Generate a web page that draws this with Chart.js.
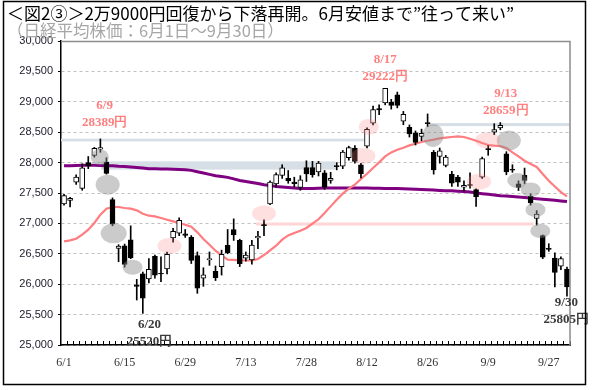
<!DOCTYPE html>
<html>
<head>
<meta charset="utf-8">
<script src="https://cdn.jsdelivr.net/npm/chart.js@4.4.1/dist/chart.umd.min.js"></script>
<style>
  html, body { margin: 0; padding: 0; background: #fff; }
  #wrap { width: 593px; height: 390px; }
</style>
</head>
<body>
<div id="wrap"><canvas id="nikkei" width="593" height="390"></canvas></div>
<script>
// trading days, 2022/6/1 - 9/30
const dates = [
  '6/1','6/2','6/3','6/6','6/7','6/8','6/9','6/10','6/13','6/14',
  '6/15','6/16','6/17','6/20','6/21','6/22','6/23','6/24','6/27','6/28',
  '6/29','6/30','7/1','7/4','7/5','7/6','7/7','7/8','7/11','7/12',
  '7/13','7/14','7/15','7/19','7/20','7/21','7/22','7/25','7/26','7/27',
  '7/28','7/29','8/1','8/2','8/3','8/4','8/5','8/8','8/9','8/10',
  '8/12','8/15','8/16','8/17','8/18','8/19','8/22','8/23','8/24','8/25',
  '8/26','8/29','8/30','8/31','9/1','9/2','9/5','9/6','9/7','9/8',
  '9/9','9/12','9/13','9/14','9/15','9/16','9/20','9/21','9/22','9/26',
  '9/27','9/28','9/29','9/30'
];

const opens = [
  27320,27380,27680,27575,28000,28120,28220,28010,27390,26590,
  26630,26730,25990,26170,26085,26460,26180,26250,26760,26840,
  26830,26770,26470,26100,26400,26210,26290,26640,26900,26720,
  26430,26400,26760,26980,27320,27650,27790,27740,27680,27590,
  27920,27920,27845,27830,27705,27950,27940,28080,28240,27965,
  28270,28650,28890,28980,28990,29115,28680,28580,28490,28430,
  28660,28170,28100,27955,27810,27760,27595,27640,27555,27760,
  28230,28500,28570,28145,27890,27650,27790,27445,27080,26800,
  26590,26430,26295,26250
];
const highs = [
  27480,27430,27800,27980,28100,28250,28389,28080,27420,26650,
  26660,26960,26080,26200,26420,26480,26450,26530,26920,27090,
  26900,26800,26530,26270,26530,26300,26560,26900,27075,26740,
  26530,26720,26870,27060,27700,27830,27965,27870,27760,27785,
  28030,28020,28020,27870,27840,28000,28200,28270,28280,27990,
  28570,28930,28950,29222,29040,29160,28842,28620,28520,28550,
  28800,28200,28240,28120,27855,27790,27700,27830,27570,28090,
  28280,28640,28659,28180,27965,27700,27910,27485,27210,26810,
  26666,26515,26450,26280
];
const lows = [
  27300,27270,27640,27545,27900,28090,28170,27810,26960,26370,
  26280,26420,25740,25520,26020,26100,26040,26170,26690,26800,
  26770,26340,25850,25965,26310,26060,26150,26500,26720,26290,
  26380,26330,26585,26800,27310,27600,27740,27660,27600,27545,
  27690,27760,27780,27560,27660,27880,27900,28040,27990,27750,
  28240,28620,28790,28950,28880,28900,28623,28420,28290,28360,
  28590,27810,27990,27930,27610,27610,27530,27580,27280,27740,
  28120,28460,28540,27800,27840,27540,27655,27300,26970,26420,
  26540,25955,26240,25805
];
const closes = [
  27457,27413,27761,27915,27944,28234,28246,27824,26987,26629,
  26326,26431,25963,25771,26246,26149,26171,26491,26871,27049,
  26804,26393,25935,26153,26423,26107,26490,26517,26812,26336,
  26478,26643,26788,26961,27680,27803,27914,27699,27655,27715,
  27815,27801,27993,27594,27741,27932,28175,28249,28020,27819,
  28546,28871,28868,29222,28942,28940,28794,28470,28330,28480,
  28641,27879,28195,28091,27661,27680,27625,27626,27440,28065,
  28214,28542,28614,27845,27876,27590,27705,27335,27155,26446,
  26571,26193,26422,25955
];

// 25-day moving average (red) and 75-day moving average (purple)
const ma25 = [
  26704,26721,26748,26814,26897,27007,27143,27242,27270,27270,
  27253,27242,27214,27160,27127,27115,27089,27061,27033,27007,
  26979,26945,26853,26743,26650,26551,26474,26403,26400,26392,
  26390,26392,26414,26480,26556,26633,26732,26803,26842,26880,
  26924,26995,27068,27171,27280,27390,27489,27571,27637,27730,
  27817,27911,28004,28102,28168,28212,28245,28283,28311,28339,
  28360,28377,28398,28410,28421,28431,28421,28393,28360,28322,
  28290,28278,28270,28240,28168,28102,28031,27977,27928,27812,
  27702,27608,27516,27444
];
const ma75 = [
  27949,27950,27952,27955,27958,27955,27952,27950,27948,27940,
  27935,27928,27921,27910,27900,27897,27895,27894,27890,27886,
  27883,27872,27850,27828,27806,27784,27770,27757,27732,27707,
  27690,27674,27655,27637,27622,27608,27600,27592,27584,27576,
  27576,27576,27580,27582,27582,27582,27582,27582,27582,27582,
  27582,27580,27578,27576,27574,27572,27570,27566,27562,27558,
  27554,27548,27542,27538,27535,27530,27526,27515,27502,27489,
  27478,27467,27456,27449,27441,27434,27425,27416,27407,27398,
  27388,27379,27370,27362
];

const yMin = 25000, yMax = 30000, yStep = 500;
const labelEvery = 10;

// horizontal bands: [fromIndex, toIndex, low, high]
const blueBands = [
  [-0.5, 49.5, 28349, 28393],
  [60.2, 83.5, 28600, 28650],
  [6.1, 44.8, 27885, 28020]
];
const pinkBands = [
  [31.7, 77.5, 26965, 27015]
];

// highlight ellipses: [index, value]
const grayMarks = [
  [5.9, 28089], [7.2, 27637], [8.2, 26836], [11.3, 26280],
  [60.9, 28446], [73.4, 28363], [74.8, 27706], [77.0, 27554],
  [77.8, 27225], [78.6, 26877]
];
const grayRadii = [
  [9, 8], [12, 10], [13, 10], [10, 7.5],
  [10.5, 11.5], [12, 10], [10, 7.5], [10, 7.3],
  [10, 7.3], [10, 7.2]
];
const pinkMarks = [
  [17.4, 26630], [33.0, 27163], [50.3, 28587], [49.4, 28110],
  [69.9, 28368], [68.5, 27686]
];
const pinkRadii = [
  [12, 8], [12, 8], [10, 8], [12, 8], [12.5, 8], [12, 8]
];

// callouts: [index, value, date, price, tone]
const notes = [
  [6.7, 28933, '6/9', '28389円', 'pink'],
  [53.0, 29692, '8/17', '29222円', 'pink'],
  [72.9, 29128, '9/13', '28659円', 'pink'],
  [14.1, 25334, '6/20', '25520円', 'dark'],
  [82.9, 25701, '9/30', '25805円', 'dark']
];

const title = '＜図2③＞2万9000円回復から下落再開。6月安値まで”往って来い”';
const subtitle = '（日経平均株価：6月1日～9月30日）';

const overlay = {
  id: 'overlay',
  beforeDatasetsDraw(chart) {
    const { ctx, chartArea: a, scales: { x, y } } = chart;
    ctx.save();
    ctx.beginPath();
    ctx.rect(a.left, a.top, a.width, a.height);
    ctx.clip();
    const band = (b, color) => {
      const x1 = x.getPixelForValue(b[0]);
      const x2 = x.getPixelForValue(b[1]);
      const y1 = y.getPixelForValue(b[3]);
      const y2 = y.getPixelForValue(b[2]);
      ctx.fillStyle = color;
      ctx.fillRect(x1, y1, x2 - x1, y2 - y1);
    };
    blueBands.forEach(b => band(b, '#D6DEE6'));
    pinkBands.forEach(b => band(b, '#FFD6D6'));
    ctx.restore();
  },
  afterDatasetsDraw(chart) {
    const { ctx, chartArea: a, scales: { x, y } } = chart;
    ctx.save();
    const blob = (m, r, color) => {
      ctx.beginPath();
      ctx.ellipse(x.getPixelForValue(m[0]), y.getPixelForValue(m[1]), r[0], r[1], 0, 0, Math.PI * 2);
      ctx.fillStyle = color;
      ctx.fill();
    };
    grayMarks.forEach((m, i) => blob(m, grayRadii[i], 'rgba(140,140,140,0.45)'));
    pinkMarks.forEach((m, i) => blob(m, pinkRadii[i], 'rgba(255,130,130,0.25)'));

    // plot frame top / right
    ctx.strokeStyle = '#8C8C8C';
    ctx.lineWidth = 1.5;
    ctx.beginPath();
    ctx.moveTo(a.left, a.top + 0.5);
    ctx.lineTo(a.right, a.top + 0.5);
    ctx.lineTo(a.right, a.bottom);
    ctx.stroke();
    ctx.restore();
  },
  afterDraw(chart) {
    const { ctx, scales: { x, y } } = chart;
    ctx.save();
    ctx.textAlign = 'center';
    ctx.textBaseline = 'middle';
    ctx.font = 'bold 13px "Liberation Serif", "DejaVu Serif", serif';
    notes.forEach(n => {
      const px = x.getPixelForValue(n[0]);
      const py = y.getPixelForValue(n[1]);
      ctx.fillStyle = n[4] === 'pink' ? '#FF7F7F' : '#3A3A3A';
      ctx.fillText(n[2], px, py);
      ctx.fillText(n[3], px, py + 17);
    });

    ctx.textAlign = 'left';
    ctx.font = '17px "Noto Sans CJK JP", sans-serif';
    ctx.fillStyle = '#000';
    ctx.fillText(title, 7, 14);
    ctx.font = '16.5px "Noto Sans CJK JP", sans-serif';
    ctx.fillStyle = '#A6A6A6';
    ctx.fillText(subtitle, 7, 31);

    ctx.strokeStyle = '#000';
    ctx.lineWidth = 1.5;
    ctx.strokeRect(3.5, 1.5, 582, 383);
    ctx.restore();
  }
};

const isUp = closes.map((c, i) => c >= opens[i]);

new Chart(document.getElementById('nikkei'), {
  type: 'bar',
  data: {
    labels: dates,
    datasets: [
      {
        type: 'line', label: '25日移動平均', data: ma25, order: 3,
        borderColor: '#FF7C80', borderWidth: 2.2, pointRadius: 0, tension: 0
      },
      {
        type: 'line', label: '75日移動平均', data: ma75, order: 4,
        borderColor: '#7F0080', borderWidth: 3, pointRadius: 0, tension: 0
      },
      {
        label: 'wick', data: lows.map((l, i) => [l, highs[i]]), order: 2,
        grouped: false, barThickness: 1, backgroundColor: '#000', borderWidth: 0
      },
      {
        label: 'body', data: opens.map((o, i) => [o, closes[i]]), order: 1,
        grouped: false, barThickness: 5, borderSkipped: false, borderWidth: 1,
        borderColor: '#000', backgroundColor: isUp.map(u => u ? '#fff' : '#000')
      }
    ]
  },
  options: {
    responsive: false,
    animation: false,
    layout: { padding: { left: 0, right: 23, top: 41, bottom: 0 } },
    plugins: { legend: { display: false }, tooltip: { enabled: false } },
    scales: {
      x: {
        offset: true,
        grid: { display: true, drawOnChartArea: false, drawTicks: true, tickLength: -4, color: '#000', offset: true },
        border: { display: true, color: '#000', width: 1.5 },
        ticks: {
          autoSkip: false, maxRotation: 0, padding: 15, color: '#333',
          font: { family: '"Liberation Serif", serif', size: 12 },
          callback: (v, i) => (i % labelEvery === 0 ? dates[i] : '')
        },
        afterFit: s => { s.height = 45; }
      },
      y: {
        min: yMin, max: yMax,
        ticks: {
          stepSize: yStep, padding: 5, color: '#1A1A2A',
          font: { family: '"Liberation Sans", Arial, sans-serif', size: 11 },
          callback: v => v.toLocaleString('en-US')
        },
        grid: { color: '#C0C0C0', tickColor: '#000', tickLength: 3 },
        border: { display: true, color: '#000', width: 1.5, dash: [3, 3] },
        afterFit: s => { s.width = 61; }
      }
    }
  },
  plugins: [overlay]
});
</script>
</body>
</html>
